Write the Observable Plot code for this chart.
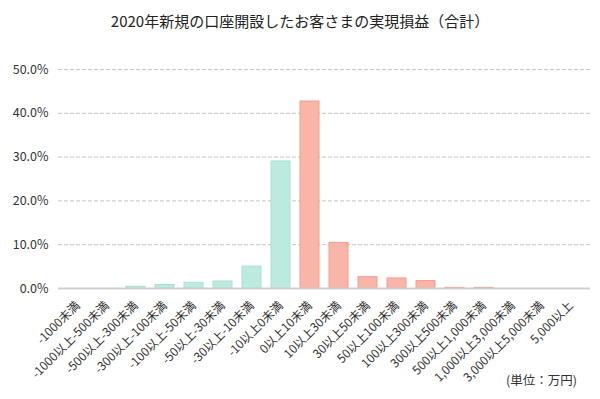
<!DOCTYPE html>
<html><head><meta charset="utf-8">
<script src="https://cdn.jsdelivr.net/npm/d3@7"></script>
<script src="https://cdn.jsdelivr.net/npm/@observablehq/plot@0.6"></script>
<style>
body{margin:0;background:#fff;font-family:"Noto Sans CJK JP","Noto Sans",sans-serif;}
#wrap{position:relative;width:600px;height:399px;}
#title{height:40px;line-height:41px;text-align:center;font-size:15px;color:#222;}
#unit{position:absolute;left:506px;top:370px;font-size:12.5px;color:#333;}
</style></head>
<body>
<div id="wrap">
<div id="title">2020年新規の口座開設したお客さまの実現損益（合計）</div>
<div id="chart"></div>
<div id="unit">(単位：万円)</div>
</div>
<script>
const categories = ["-1000未満","-1000以上-500未満","-500以上-300未満","-300以上-100未満","-100以上-50未満","-50以上-30未満","-30以上-10未満","-10以上0未満","0以上10未満","10以上30未満","30以上50未満","50以上100未満","100以上300未満","300以上500未満","500以上1,000未満","1,000以上3,000未満","3,000以上5,000未満","5,000以上"];
const values = [0.0, 0.0, 0.4, 0.8, 1.3, 1.6, 5.0, 29.0, 42.7, 10.4, 2.6, 2.3, 1.7, 0.15, 0.15, 0.0, 0.0, 0.0];
const yTicks = [0, 10, 20, 30, 40, 50];
const data = categories.map((c, i) => ({cat: c, v: values[i], loss: i < 8}));

const chart = Plot.plot({
  width: 600, height: 359,
  marginTop: 29, marginBottom: 111, marginLeft: 58, marginRight: 10,
  style: {fontFamily: '"Noto Sans CJK JP","Noto Sans",sans-serif', fontSize: "11px", color: "#333", background: "#fff"},
  x: {domain: categories, paddingInner: 0.36, paddingOuter: 0.18, label: null},
  y: {domain: [0, 50], ticks: yTicks, label: null},
  marks: [
    Plot.gridY(yTicks.filter(d => d > 0), {stroke: "#c4c4c4", strokeOpacity: 1, strokeDasharray: "4,2", strokeWidth: 1}),
    Plot.barY(data, {x: "cat", y: "v", fill: d => d.loss ? "#bdeadf" : "#f8b5a8", stroke: d => d.loss ? "#a6e0d1" : "#f49d8f", strokeWidth: 1}),
    Plot.ruleY([0], {stroke: "#d0d0d0", strokeWidth: 2}),
    Plot.axisY({ticks: yTicks, tickSize: 0, tickPadding: 10, tickFormat: d => d.toFixed(1) + "%", fontSize: 12.5, fill: "#333"}),
    Plot.axisX({tickSize: 0, tickPadding: 15, tickRotate: -45, fontSize: 12, fill: "#333"})
  ]
});
document.getElementById("chart").appendChild(chart);
</script>
</body></html>
